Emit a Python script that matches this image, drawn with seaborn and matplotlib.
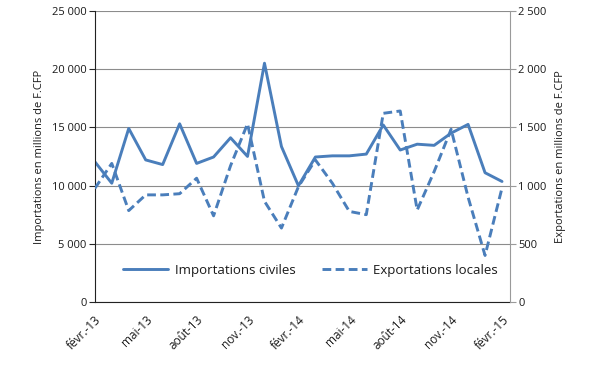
import pandas as pd
import matplotlib
matplotlib.use("Agg")
import matplotlib.pyplot as plt
import seaborn as sns

# monthly series, févr.-13 to févr.-15
mois = ["févr.-13", "mars-13", "avr.-13", "mai-13", "juin-13", "juil.-13", "août-13",
        "sept.-13", "oct.-13", "nov.-13", "déc.-13", "janv.-14", "févr.-14", "mars-14",
        "avr.-14", "mai-14", "juin-14", "juil.-14", "août-14", "sept.-14", "oct.-14",
        "nov.-14", "déc.-14", "janv.-15", "févr.-15"]
importations = [12050, 10200, 14900, 12200, 11800, 15300, 11900, 12450, 14100, 12500,
                20500, 13350, 9980, 12450, 12550, 12550, 12700, 15200, 13050, 13550,
                13450, 14500, 15250, 11100, 10350]
exportations = [975, 1190, 785, 920, 920, 930, 1063, 740, 1170, 1530,
                865, 635, 990, 1220, 1020, 778, 750, 1620, 1640, 790,
                1120, 1483, 900, 400, 980]

df = pd.DataFrame({"mois": mois, "imp": importations, "exp": exportations})
df["i"] = range(len(df))

sns.set_style("white")
plt.rcParams["font.family"] = ["Open Sans", "DejaVu Sans"]
bleu = "#4a7ebb"
texte = "#1a1a1a"

fig = plt.figure(figsize=(6, 3.72), dpi=100)
ax = fig.add_axes([0.158, 0.188, 0.692, 0.783])
ax2 = ax.twinx()

sns.lineplot(data=df, x="i", y="imp", ax=ax, color=bleu, linewidth=2.1,
             label="Importations civiles", legend=False)
sns.lineplot(data=df, x="i", y="exp", ax=ax2, color=bleu, linewidth=2.1,
             linestyle=(0, (3.0, 1.5)), label="Exportations locales", legend=False)

ax.set_ylim(0, 25000)
ax2.set_ylim(0, 2500)
ax.set_xlim(0, 24.47)
ax.set_yticks(range(0, 25001, 5000))
ax.set_yticklabels([f"{v:,}".replace(",", " ") for v in range(0, 25001, 5000)],
                   fontsize=8, color=texte)
ax2.set_yticks(range(0, 2501, 500))
ax2.set_yticklabels([f"{v:,}".replace(",", " ") for v in range(0, 2501, 500)],
                    fontsize=8, color=texte)

ax.set_xticks(df["i"][::3])
ax.set_xticklabels(df["mois"][::3], rotation=45, ha="right", rotation_mode="anchor",
                   fontsize=8.5, color=texte)
ax.set_xticks(df["i"], minor=True)
ax.tick_params(axis="x", which="major", direction="inout", length=6, width=0.8, pad=5)
ax.tick_params(axis="x", which="minor", direction="out", length=3, width=0.8)
ax.tick_params(axis="y", direction="out", length=4, width=0.8, pad=2)
ax2.tick_params(axis="y", direction="out", length=4, width=0.8, color="#9a9a9a", pad=2)

ax.grid(axis="y", color="#8c8c8c", linewidth=0.8)
ax.set_axisbelow(True)
ax.spines["top"].set_visible(False)
ax2.spines["top"].set_visible(False)
ax.spines["right"].set_visible(False)
ax2.spines["left"].set_visible(False)
ax2.spines["bottom"].set_visible(False)
ax.spines["left"].set_color("#222222")
ax.spines["bottom"].set_color("#222222")
ax2.spines["right"].set_color("#9a9a9a")

ax.set_xlabel("")
ax.set_ylabel("Importations en millions de F.CFP", fontsize=8, labelpad=5, color=texte)
ax2.set_ylabel("Exportations en millions de F.CFP", fontsize=8, labelpad=6, color=texte)

h1, l1 = ax.get_legend_handles_labels()
h2, l2 = ax2.get_legend_handles_labels()
leg = ax2.legend(h1 + h2, l1 + l2, loc="center", bbox_to_anchor=(0.52, 0.11), ncol=2,
                 frameon=False, fontsize=9.5, handlelength=3.4, columnspacing=2.0,
                 handletextpad=0.5, labelcolor=texte)

fig.savefig("out.png", dpi=100)
